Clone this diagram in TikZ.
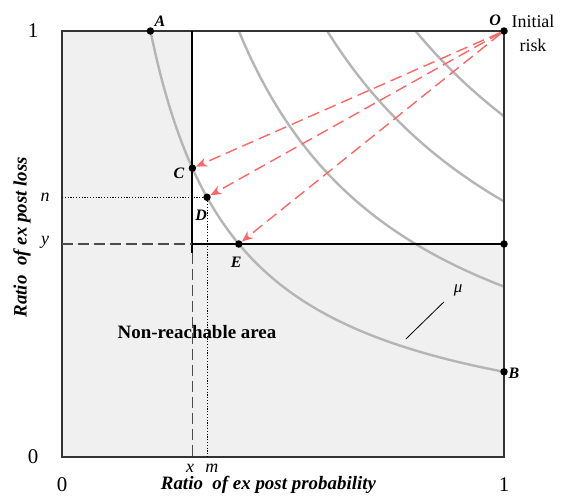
\documentclass[tikz,border=0pt]{standalone}
\usepackage{fontspec}
\setmainfont{Liberation Serif}
\usetikzlibrary{positioning, arrows.meta, calc}
\tikzset{
  frame/.style={line width=1.5bp, black!80},
  bound/.style={line width=2bp, black},
  indiff/.style={line width=2.4bp, gray!58},
  pt/.style={circle, fill=black, inner sep=0pt, minimum size=7.5bp},
  ptlabel/.style={font=\fontsize{16}{18}\selectfont\bfseries\itshape, inner sep=0pt},
  axlabel/.style={font=\fontsize{19}{21}\selectfont\bfseries\itshape, inner sep=0pt},
  tick/.style={font=\fontsize{21}{23}\selectfont, inner sep=0pt},
  var/.style={font=\fontsize{18}{20}\selectfont\itshape, inner sep=0pt},
  move/.style={-{Stealth[length=11bp, width=9bp]}, dash pattern=on 12bp off 6bp, line width=1.4bp, red!60},
  guide/.style={dash pattern=on 11bp off 5bp, line width=1.2bp, black!70},
  dotguide/.style={dash pattern=on 1.2bp off 1.6bp, line width=0.9bp, black}
}

\begin{document}
\begin{tikzpicture}[x=442bp, y=426bp]
        \useasboundingbox (-0.1403,-0.0892) rectangle (1.1312,1.0728);
        \fill[gray!12] (0,0) rectangle (1,1);
        \fill[white] (0.295,0.5) rectangle (1,1);
        % iso-risk curves
        \foreach \c in {0.2,0.4,0.6,0.8}
          \draw[indiff] plot[domain=\c:1, samples=60, smooth] (\x, {\c/\x});
        \draw[frame] (0,0) rectangle (1,1);
        \draw[bound] (0.295,1) -- (0.295,0.48);
        \draw[bound] (0.295,0.5) -- (1,0.5);
        \draw[guide] (0,0.5) -- (0.295,0.5);
        \draw[guide] (0.295,0.48) -- (0.295,0);
        % points
        \node[pt] (A) at (0.2,1) {};
        \node[pt] (O) at (1,1) {};
        \node[pt] (C) at (0.295,0.678) {};
        \node[pt] (D) at (0.328,0.6098) {};
        \node[pt] (E) at (0.4,0.5) {};
        \node[pt] (B) at (1,0.2) {};
        \node[pt] (R) at (1,0.5) {};
        \draw[dotguide] (0,0.6098) -- (D);
        \draw[dotguide] (D) -- (0.328,0);
        \draw[move] (O) -- (C);
        \draw[move] (O) -- (D);
        \draw[move] (O) -- (E);
        \node[ptlabel] at (0.2217,1.0235) {A};
        \node[ptlabel] at (0.98,1.026) {O};
        \node[ptlabel] at (0.2647,0.6667) {C};
        \node[ptlabel] at (0.3145,0.568) {D};
        \node[ptlabel] at (0.394,0.458) {E};
        \node[ptlabel] at (1.0226,0.197) {B};
        \node[align=center, font=\fontsize{18}{24}\selectfont, inner sep=0pt, anchor=north] (init) at (1.0656,1.0375) {Initial\\risk};
        % mu label
        \coordinate (mutip) at (0.778,0.277);
        \node[font=\fontsize{17}{19}\selectfont\itshape, inner sep=0pt] (mu) at (0.896,0.392) {μ};
        \draw[line width=0.8bp] (mutip) -- (0.864,0.364);
        \node[font=\fontsize{19}{21}\selectfont\bfseries, inner sep=0pt] at (0.3054,0.2934) {Non-reachable area};
        % axes
        \node[tick] at (-0.0656,1) {1};
        \node[tick] at (-0.0656,0) {0};
        \node[tick] at (0,-0.064) {0};
        \node[tick] at (1,-0.064) {1};
        \node[var] at (-0.0385,0.61) {n};
        \node[var] at (-0.0385,0.505) {y};
        \node[var] at (0.29,-0.026) {x};
        \node[var] at (0.339,-0.026) {m};
        \node[axlabel] at (0.467,-0.0657) {Ratio~ of ex post probability};
        \node[axlabel, rotate=90] at (-0.0905,0.516) {Ratio~ of ex post loss};
      \end{tikzpicture}
\end{document}
